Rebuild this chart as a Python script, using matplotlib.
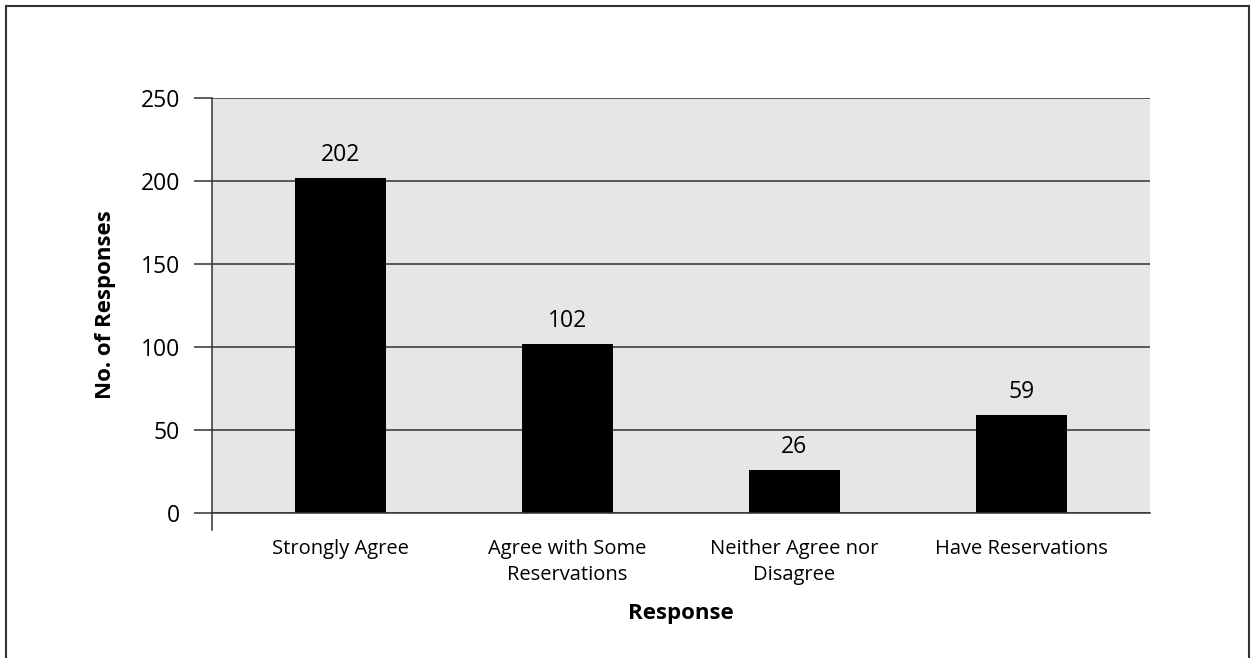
import matplotlib
matplotlib.use('Agg')
import matplotlib.pyplot as plt
from matplotlib.patches import Rectangle

# survey results
categories = ['Strongly Agree', 'Agree with Some\nReservations',
              'Neither Agree nor\nDisagree', 'Have Reservations']
counts = [202, 102, 26, 59]
yticks = [0, 50, 100, 150, 200, 250]

plt.rcParams['font.family'] = ['Open Sans', 'DejaVu Sans']

fig = plt.figure(figsize=(12.53, 6.58), dpi=100)
ax = fig.add_axes([212 / 1253, 1 - 513 / 658, (1150 - 212) / 1253, (513 - 98) / 658])
ax.set_facecolor('#e6e6e6')

x = range(len(categories))
ax.bar(x, counts, width=0.4, color='black', zorder=3)
for xi, v in zip(x, counts):
    ax.annotate(str(v), (xi, v), xytext=(0, 8), textcoords='offset points',
                ha='center', va='bottom', fontsize=16.5, zorder=4)

ax.set_xlim(-0.568, 3.568)
ax.set_ylim(0, 250)
ax.set_yticks(yticks)
ax.set_xticks(list(x))
ax.set_xticklabels(categories, fontsize=14.5, linespacing=1.35)
ax.tick_params(axis='y', direction='out', length=13, width=1.1, color='#333333',
               labelsize=16.5, pad=10)
ax.tick_params(axis='x', length=0, pad=19)
ax.grid(axis='y', color='#333333', linewidth=1.1, zorder=1)
ax.set_axisbelow(True)

for s in ['top', 'right']:
    ax.spines[s].set_visible(False)
ax.spines['left'].set_color('#333333')
ax.spines['left'].set_linewidth(1.1)
ax.spines['left'].set_bounds(-10, 250)
ax.spines['bottom'].set_color('#333333')
ax.spines['bottom'].set_linewidth(1.1)
ax.spines['bottom'].set_zorder(5)

fig.text(681 / 1253, 1 - 613 / 658, 'Response', ha='center', va='center',
         fontsize=16, fontweight='bold')
fig.text(105 / 1253, 1 - 305 / 658, 'No. of Responses', ha='center', va='center',
         rotation=90, fontsize=16, fontweight='bold')

# outer frame, open at the bottom
fig.patches.append(Rectangle((6 / 1253, -0.1), (1249 - 6) / 1253, 1.1 - 6 / 658,
                             transform=fig.transFigure, fill=False,
                             edgecolor='#333333', linewidth=1.5))

fig.savefig('out.png', dpi=100)
